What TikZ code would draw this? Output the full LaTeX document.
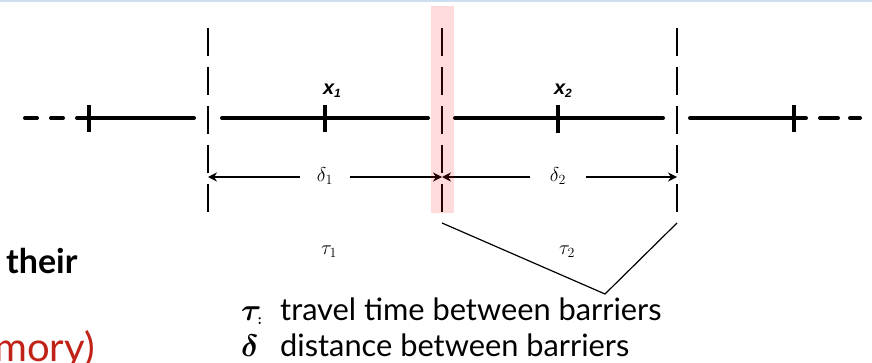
\RequirePackage{fix-cm}
\documentclass[tikz,border=0pt]{standalone}
\usepackage{fontspec}
\setmainfont{Lato}
\newfontfamily\helv{Liberation Sans}
\usetikzlibrary{arrows.meta}
\definecolor{slidered}{RGB}{192,34,24}
\definecolor{topblue}{RGB}{204,222,240}
\begin{document}
\begin{tikzpicture}[x=1pt,y=-1pt,
  barrier/.style={line width=2.3pt, dash pattern=on 28pt off 11pt},
  mainline/.style={line width=4pt, line cap=round},
  tickmark/.style={line width=3.2pt},
  dimline/.style={line width=1.1pt, -{Stealth[length=9pt,width=9pt,inset=3pt]}},
  bracket/.style={line width=1.2pt},
  dimlabel/.style={inner sep=0pt, font=\fontsize{20}{22}\selectfont},
  xlabel/.style={inner sep=0pt, font=\helv\bfseries\itshape\fontsize{20}{22}\selectfont},
  legend/.style={anchor=base west, inner sep=0pt, font=\fontsize{30.8}{33}\selectfont},
  greek/.style={anchor=base west, inner sep=0pt, font=\fontsize{31}{33}\selectfont\boldmath},
  slide/.style={inner sep=0pt, font=\bfseries\fontsize{34}{38}\selectfont}]
\useasboundingbox (0,0) rectangle (872,363);
\clip (0,0) rectangle (872,363);
% top border
\draw[topblue, line width=2pt] (0,1) -- (872,1);
% barriers
\coordinate (b1t) at (208,28); \coordinate (b1b) at (208,212);
\coordinate (b2t) at (442,28); \coordinate (b2b) at (442,212);
\coordinate (b3t) at (677,28); \coordinate (b3b) at (677,212);
\draw[barrier] (b1t) -- (b1b);
\draw[barrier] (b2t) -- (b2b);
\draw[barrier] (b3t) -- (b3b);
% main line
\coordinate (l1a) at (25,118); \coordinate (l1b) at (37,118);
\coordinate (l2a) at (51,118); \coordinate (l2b) at (63,118);
\coordinate (s1a) at (77,118); \coordinate (s1b) at (194,118);
\coordinate (s2a) at (222,118); \coordinate (s2b) at (428,118);
\coordinate (s3a) at (455,118); \coordinate (s3b) at (663,118);
\coordinate (s4a) at (690,118); \coordinate (s4b) at (806,118);
\coordinate (r1a) at (820,118); \coordinate (r1b) at (838,118);
\coordinate (r2a) at (850,118); \coordinate (r2b) at (860,118);
\draw[mainline] (l1a) -- (l1b);
\draw[mainline] (l2a) -- (l2b);
\draw[mainline] (s1a) -- (s1b);
\draw[mainline] (s2a) -- (s2b);
\draw[mainline] (s3a) -- (s3b);
\draw[mainline] (s4a) -- (s4b);
\draw[mainline] (r1a) -- (r1b);
\draw[mainline] (r2a) -- (r2b);
% ticks
\coordinate (t0a) at (89,105); \coordinate (t0b) at (89,132);
\coordinate (t1a) at (325,105); \coordinate (t1b) at (325,132);
\coordinate (t2a) at (558,105); \coordinate (t2b) at (558,133);
\coordinate (t3a) at (794,105); \coordinate (t3b) at (794,132);
\draw[tickmark] (t0a) -- (t0b);
\draw[tickmark] (t1a) -- (t1b);
\draw[tickmark] (t2a) -- (t2b);
\draw[tickmark] (t3a) -- (t3b);
% x labels
\node[xlabel] (x1) at (332,91) {x\raisebox{-3pt}{\fontsize{12}{12}\selectfont 1}};
\node[xlabel] (x2) at (563,91) {x\raisebox{-3pt}{\fontsize{12}{12}\selectfont 2}};
% dimension arrows
\coordinate (a1) at (208,177); \coordinate (a2) at (442,177); \coordinate (a3) at (677,177);
\node[dimlabel, minimum width=50pt] (d1) at (325,176) {$\delta_1$};
\node[dimlabel, minimum width=55pt] (d2) at (558,176) {$\delta_2$};
\draw[dimline] (d1.west |- a1) -- (a1);
\draw[dimline] (d1.east |- a1) -- (a2);
\draw[dimline] (d2.west |- a2) -- (a2);
\draw[dimline] (d2.east |- a3) -- (a3);
% tau labels
\node[dimlabel] (tau1) at (329,252) {$\tau_1$};
\node[dimlabel] (tau2) at (567,252) {$\tau_2$};
% bracket
\coordinate (k1) at (442,223); \coordinate (k2) at (605,294); \coordinate (k3) at (677,223);
\draw[bracket] (k1) -- (k2) -- (k3);
% highlight
\node[fill=red, fill opacity=0.14, draw=none, minimum width=23pt, minimum height=207pt, inner sep=0pt] (hl) at (442.5,109.5) {};
% legend
\node[greek] (gt) at (241,320) {$\tau_{\scriptscriptstyle :}$};
\node[legend] (lt) at (280,320) {travel time between barriers};
\node[greek] (gd) at (241,356) {$\delta$};
\node[legend] (ld) at (280,356) {distance between barriers};
% slide text remnants
\node[slide, anchor=base west] (their) at (6,273) {their};
\node[slide, anchor=base east, text=slidered, font=\fontsize{40}{44}\selectfont] (mory) at (95,361) {mory)};
\end{tikzpicture}
\end{document}
